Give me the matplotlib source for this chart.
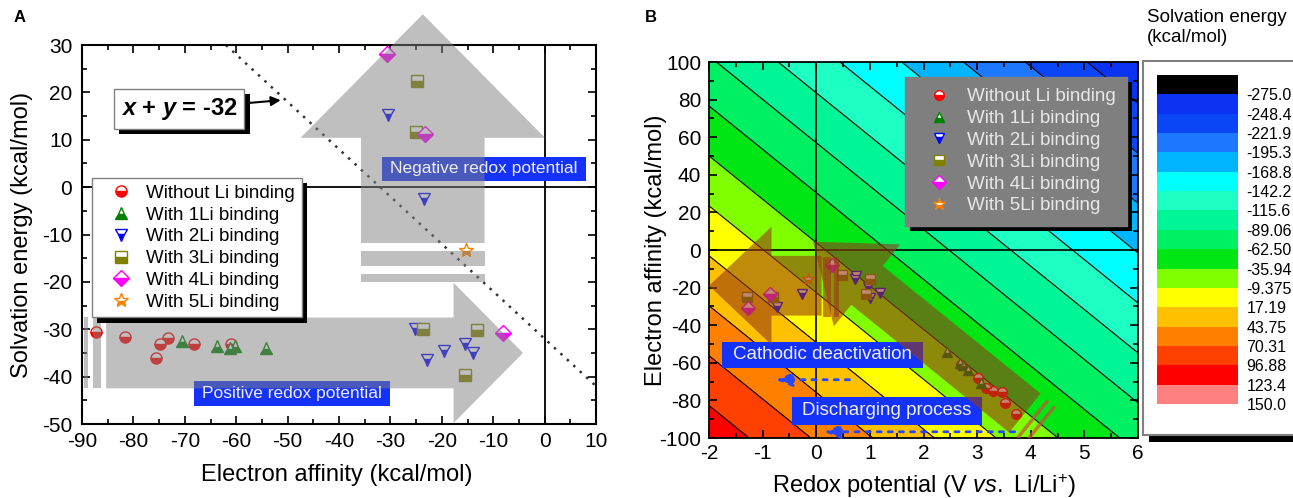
"""Solvation energy vs electron affinity (A) and the redox-potential map (B)."""

import matplotlib.pyplot as plt
import numpy as np
from matplotlib import patheffects
from matplotlib.colors import BoundaryNorm, ListedColormap
from matplotlib.patches import FancyArrowPatch, Rectangle
from matplotlib.ticker import MultipleLocator

plt.rcParams.update({
    "font.family": ["Liberation Sans", "DejaVu Sans"],
    "mathtext.fontset": "custom",
    "mathtext.rm": "Liberation Sans",
    "mathtext.it": "Liberation Sans:italic",
    "mathtext.bf": "Liberation Sans:bold",
    "mathtext.bfit": "Liberation Sans:italic:bold",
    "axes.unicode_minus": False,
    "xtick.direction": "in",
    "ytick.direction": "in",
    "xtick.top": True,
    "ytick.right": True,
})

# electron affinity / solvation energy (kcal/mol) for each Li-binding state
no_li_ea = [-87.3, -81.6, -75.6, -74.8, -73.2, -68.2, -61.0]
no_li_solv = [-30.5, -31.7, -36.1, -33.2, -31.9, -33.2, -33.2]
li1_ea = [-70.6, -63.7, -61.3, -60.3, -54.2]
li1_solv = [-32.4, -33.6, -34.0, -33.6, -33.9]
li2_ea = [-30.5, -23.4, -25.3, -22.8, -19.6, -15.4, -14.0]
li2_solv = [15.2, -2.5, -29.9, -36.5, -34.6, -33.2, -35.0]
li3_ea = [-24.8, -25.0, -23.6, -13.1, -15.5]
li3_solv = [22.4, 11.6, -29.9, -30.1, -39.6]
li4_ea = [-30.6, -23.3, -8.1]
li4_solv = [28.0, 11.2, -30.8]
li5_ea = [-15.3]
li5_solv = [-13.2]

labels = ["Without Li binding", "With 1Li binding", "With 2Li binding",
          "With 3Li binding", "With 4Li binding", "With 5Li binding"]
markers = ["o", "^", "v", "s", "D", "*"]
colors = ["#FF0000", "#008000", "#0000FF", "#808000", "#FF00FF", "#FF8000"]
series = [(no_li_ea, no_li_solv), (li1_ea, li1_solv), (li2_ea, li2_solv),
          (li3_ea, li3_solv), (li4_ea, li4_solv), (li5_ea, li5_solv)]

# V vs Li/Li+ = -(EA + Solv) / F - E_LI
F_KCAL = 23.06
E_LI = 1.3877

# filled contour levels of the solvation energy map
levels = np.linspace(-275, 150, 17)
level_colors = ["#000000", "#0A32F0", "#0A46F5", "#1E78FF", "#00B4FF", "#00FFFF",
                "#1EFFC3", "#00F596", "#00F064", "#00E614", "#80FF00", "#FFFF00",
                "#FFC000", "#FF8000", "#FF4000", "#FF0000", "#FF8080"]

W, H = 1293, 498
fig = plt.figure(figsize=(W / 100, H / 100), dpi=100)

# hard black drop shadow for boxed texts and legends
drop_shadow = [patheffects.SimplePatchShadow(offset=(3.8, -3.8), shadow_rgbFace="black",
                                             alpha=1.0),
               patheffects.Normal()]


def fig_rect(left, top, right, bottom):
    return [left / W, 1 - bottom / H, (right - left) / W, (bottom - top) / H]


def style_axes(ax, lw, xpad, ypad):
    for s in ax.spines.values():
        s.set_linewidth(lw)
    ax.tick_params(which="major", length=6, width=1.2, labelsize=15)
    ax.tick_params(which="minor", length=3.5, width=1.2)
    ax.tick_params(axis="x", pad=xpad)
    ax.tick_params(axis="y", pad=ypad)


def block_arrow(ax, tail, tip, tail_w, head_w, head_l, color, alpha, clip=True):
    style = f"simple,tail_width={tail_w},head_width={head_w},head_length={head_l}"
    p = FancyArrowPatch(tail, tip, arrowstyle=style, mutation_scale=1,
                        shrinkA=0, shrinkB=0, facecolor=color, edgecolor="none",
                        linewidth=0, alpha=alpha, zorder=4, clip_on=clip)
    ax.add_patch(p)


# ---------------- panel A ----------------
ax_a = fig.add_axes(fig_rect(82, 45, 596, 424))
ax_a.set_xlim(-90, 10)
ax_a.set_ylim(-50, 30)
ax_a.xaxis.set_major_locator(MultipleLocator(10))
ax_a.xaxis.set_minor_locator(MultipleLocator(5))
ax_a.yaxis.set_major_locator(MultipleLocator(10))
ax_a.yaxis.set_minor_locator(MultipleLocator(5))
style_axes(ax_a, 1.5, 6, 7)
ax_a.axhline(0, color="black", lw=1.3, zorder=1)
ax_a.axvline(0, color="black", lw=1.3, zorder=1)

xs = np.array([-62.0, 10.0])
ax_a.plot(xs, -32 - xs, color="#333333", lw=1.8, linestyle=(0, (1, 2.5)), zorder=1)

for (ea, solv), lab, mk, col in zip(series, labels, markers, colors):
    ax_a.plot(ea, solv, linestyle="none", marker=mk, markersize=8 if mk != "*" else 10,
              color=col, markeredgecolor=col, markeredgewidth=1.0,
              fillstyle="bottom", markerfacecoloralt="white", label=lab, zorder=3)

# text boxes under the arrows
ax_a.add_patch(Rectangle((-31.7, 1.3), 39.75, 5.1, facecolor="#1432FA",
                         edgecolor="none", zorder=2))
ax_a.add_patch(Rectangle((-68.2, -46.2), 38.2, 5.2, facecolor="#1432FA",
                         edgecolor="none", zorder=2))

gray = "#808080"
block_arrow(ax_a, (-23.7, -11.8), (-23.7, 36.5), 89, 176, 89, gray, 0.5, clip=False)
block_arrow(ax_a, (-85.3, -35.0), (-4.2, -35.0), 51, 101, 50, gray, 0.5)
for x0, y0, w, h in [(-35.8, -16.6, 24.2, 3.1), (-35.8, -20.0, 24.2, 1.7),
                     (-89.6, -42.4, 0.8, 14.9), (-87.9, -42.4, 1.6, 14.9)]:
    ax_a.add_patch(Rectangle((x0, y0), w, h, facecolor=gray, alpha=0.5,
                             edgecolor="none", zorder=4))

ax_a.text(-11.8, 3.85, "Negative redox potential", ha="center", va="center",
          fontsize=12.5, color="#EEEEEE", zorder=6)
ax_a.text(-49.1, -43.6, "Positive redox potential", ha="center", va="center",
          fontsize=12.5, color="#EEEEEE", zorder=6)

eq = ax_a.annotate(r"$\mathbfit{x}$ + $\mathbfit{y}$ = -32", xy=(-50.8, 18.4),
                   xytext=(-71.1, 16.5), ha="center", va="center", fontsize=17,
                   fontweight="bold", zorder=7,
                   bbox=dict(boxstyle="square,pad=0.3", facecolor="white",
                             edgecolor="#808080"),
                   arrowprops=dict(arrowstyle="-|>", color="black", lw=1.5,
                                   mutation_scale=14))
eq.get_bbox_patch().set_path_effects(drop_shadow)

leg_a = ax_a.legend(loc="upper left", bbox_to_anchor=(92 / W, 1 - 178 / H),
                    bbox_transform=fig.transFigure, borderaxespad=0, fontsize=13.5,
                    numpoints=1, handlelength=2.4, handletextpad=0.15, borderpad=0.35,
                    labelspacing=0.25, fancybox=False, framealpha=1,
                    edgecolor="#808080")
leg_a.get_frame().set_path_effects(drop_shadow)
leg_a.set_zorder(10)

ax_a.set_xlabel("Electron affinity (kcal/mol)", fontsize=17)
ax_a.set_ylabel("Solvation energy (kcal/mol)", fontsize=17)
ax_a.xaxis.set_label_coords(0.496, -0.105)
ax_a.yaxis.set_label_coords(-0.095, 0.5)
fig.text(14 / W, 1 - 18 / H, "A", fontsize=12, fontweight="bold", va="center")

# ---------------- panel B ----------------
ax_b = fig.add_axes(fig_rect(709, 62, 1138, 438))
ax_b.set_xlim(-2, 6)
ax_b.set_ylim(-100, 100)
ax_b.xaxis.set_major_locator(MultipleLocator(1))
ax_b.xaxis.set_minor_locator(MultipleLocator(0.5))
ax_b.yaxis.set_major_locator(MultipleLocator(20))
ax_b.yaxis.set_minor_locator(MultipleLocator(10))
style_axes(ax_b, 1.3, 4, 5.5)

vv, ee = np.meshgrid(np.linspace(-2, 6, 321), np.linspace(-100, 100, 401))
solv_map = -F_KCAL * (vv + E_LI) - ee
ax_b.contourf(vv, ee, solv_map, levels=np.concatenate([[-1000], levels]),
              colors=level_colors, zorder=0)
ax_b.contour(vv, ee, solv_map, levels=levels, colors="black", linewidths=0.8,
             linestyles="solid", zorder=1)
ax_b.axhline(0, color="black", lw=1.2, zorder=1)
ax_b.axvline(0, color="black", lw=1.2, zorder=1)

for (ea, solv), lab, mk, col in zip(series, labels, markers, colors):
    ea = np.asarray(ea)
    redox = -(ea + np.asarray(solv)) / F_KCAL - E_LI
    ax_b.plot(redox, ea, linestyle="none", marker=mk, markersize=7 if mk != "*" else 9,
              color=col, markeredgecolor=col, markeredgewidth=1.0,
              fillstyle="bottom", markerfacecoloralt="white", label=lab, zorder=3)

ax_b.add_patch(Rectangle((-1.75, -62.6), 3.74, 13.8, facecolor="#1432FA",
                         edgecolor="none", zorder=2))
ax_b.add_patch(Rectangle((-0.45, -92.9), 3.54, 14.9, facecolor="#1432FA",
                         edgecolor="none", zorder=2))

brown = "#963C14"
block_arrow(ax_b, (0.1, -19.0), (-2.0, -19.0), 43, 85, 45, brown, 0.6)
block_arrow(ax_b, (3.89, -86.7), (-0.06, 4.4), 36, 76, 50, brown, 0.6)
for x0, w in [(0.12, 0.15), (0.34, 0.08)]:
    ax_b.add_patch(Rectangle((x0, -35.6), w, 31.9, facecolor=brown, alpha=0.6,
                             edgecolor="none", zorder=4))

# two thin bars across the tail of the diagonal arrow
to_px = ax_b.transData
tail_px = to_px.transform((3.89, -86.7))
tip_px = to_px.transform((-0.06, 4.4))
d = (tip_px - tail_px) / np.hypot(*(tip_px - tail_px))
n = np.array([-d[1], d[0]])
for off in (10, 19):
    c = tail_px - d * off
    seg = to_px.inverted().transform(np.vstack([c - n * 24, c + n * 24]))
    ax_b.plot(seg[:, 0], seg[:, 1], color="#C8503C", lw=2.5, alpha=0.7,
              solid_capstyle="butt", zorder=4)

ax_b.text(0.12, -55.7, "Cathodic deactivation", ha="center", va="center",
          fontsize=13.5, color="#EEEEEE", zorder=6)
ax_b.text(1.32, -85.4, "Discharging process", ha="center", va="center",
          fontsize=13.5, color="#EEEEEE", zorder=6)

dash_blue = "#2846FF"
for start, end in [((0.62, -69.0), (-0.75, -69.0)), ((3.7, -96.7), (0.15, -96.7))]:
    ax_b.annotate("", xy=end, xytext=start, zorder=5,
                  arrowprops=dict(arrowstyle="-|>,head_length=0.7,head_width=0.3",
                                  color=dash_blue, lw=2, linestyle=(0, (1.5, 2.5)),
                                  mutation_scale=14, shrinkA=0, shrinkB=0))

leg_b = ax_b.legend(loc="upper right", bbox_to_anchor=(1127 / W, 1 - 77 / H),
                    bbox_transform=fig.transFigure, borderaxespad=0, fontsize=13.5,
                    numpoints=1, handlelength=2.4, handletextpad=0.3, borderpad=0.6,
                    labelspacing=0.25, fancybox=False, framealpha=1,
                    facecolor="#7F7F7F", edgecolor="#7F7F7F")
leg_b.get_frame().set_path_effects(drop_shadow)
for t in leg_b.get_texts():
    t.set_color("#E8E8E8")
leg_b.set_zorder(10)

ax_b.set_xlabel(r"Redox potential (V $\mathit{vs.}$ Li/Li$^{+}$)", fontsize=17)
ax_b.set_ylabel("Electron affinity (kcal/mol)", fontsize=17)
ax_b.xaxis.set_label_coords(0.50, -0.09)
ax_b.yaxis.set_label_coords(-0.098, 0.5)
fig.text(645 / W, 1 - 18 / H, "B", fontsize=12, fontweight="bold", va="center")

# ---------------- colour scale ----------------
fig.add_artist(Rectangle((1149 / W, 1 - 442 / H), 160 / W, 6 / H,
                         transform=fig.transFigure, facecolor="black",
                         edgecolor="none", zorder=0))
fig.add_artist(Rectangle((1143 / W, 1 - 435 / H), 160 / W, 374 / H,
                         transform=fig.transFigure, facecolor="white",
                         edgecolor="#808080", linewidth=1.5, zorder=0.5))

ax_cb = fig.add_axes(fig_rect(1157, 75, 1238, 404))
ax_cb.set_zorder(2)
n_blocks = len(level_colors)
ax_cb.pcolormesh([0, 1], np.arange(n_blocks + 1),
                 np.arange(n_blocks)[::-1].reshape(-1, 1),
                 cmap=ListedColormap(level_colors),
                 norm=BoundaryNorm(np.arange(-0.5, n_blocks + 0.5), n_blocks))
ax_cb.set_xlim(0, 1)
ax_cb.set_ylim(0, n_blocks)
ax_cb.set_xticks([])
ax_cb.yaxis.tick_right()
ax_cb.set_yticks(np.arange(len(levels)))
ax_cb.set_yticklabels([f"{v:#.4g}" for v in levels[::-1]])
ax_cb.tick_params(axis="y", which="both", length=0, pad=6, labelsize=11.5,
                  left=False, right=False)
for s in ax_cb.spines.values():
    s.set_visible(False)

fig.text(1147 / W, 1 - 9 / H, "Solvation energy\n(kcal/mol)", fontsize=13.5,
         ha="left", va="top", linespacing=1.25)

fig.savefig("out.png", dpi=100)
